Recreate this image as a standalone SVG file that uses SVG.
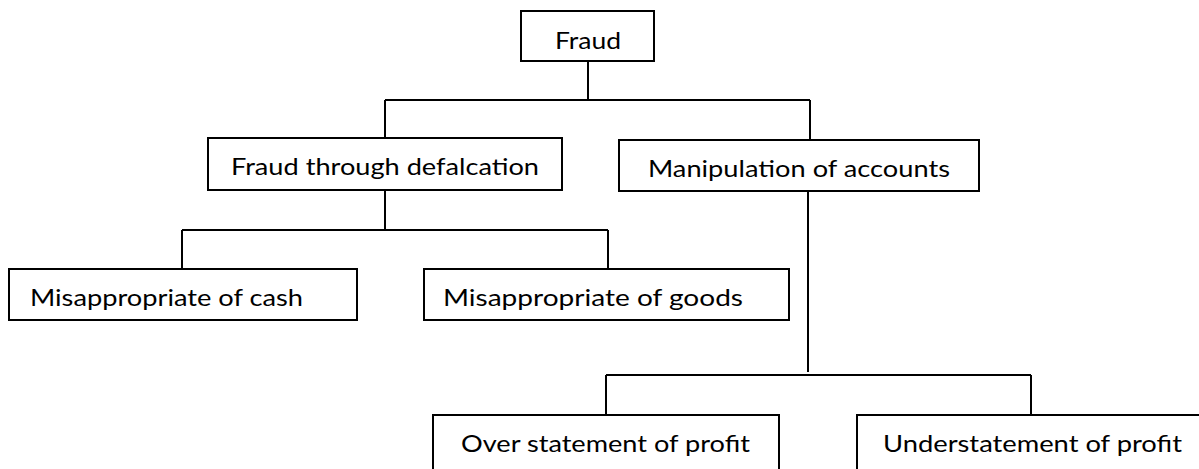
<svg xmlns="http://www.w3.org/2000/svg" width="1199" height="469" viewBox="0 0 1199 469">
<style>
.box{fill:#fff;stroke:#000;stroke-width:2}
.lbl{font-family:Lato,"Open Sans","Liberation Sans",sans-serif;font-size:24px;fill:#000}
.conn{fill:none;stroke:#000;stroke-width:2}
</style>
<rect width="1199" height="469" fill="#fff"/>
<g id="connectors">
<path class="conn" d="M588 62V100M385 100H810M385 100V138M810 100V140"/>
<path class="conn" d="M385 191V230M182 230H608M182 230V269M608 230V269"/>
<path class="conn" d="M808 192V372M606 375H1031M606 375V415M1031 375V415"/>
</g>
<g id="fraud"><rect class="box" x="521" y="11" width="133" height="50"/><text class="lbl" x="555" y="49" textLength="66" lengthAdjust="spacingAndGlyphs">Fraud</text></g>
<g id="defalcation"><rect class="box" x="208" y="138" width="354" height="52"/><text class="lbl" x="231" y="175" textLength="308" lengthAdjust="spacingAndGlyphs">Fraud through defalcation</text></g>
<g id="manipulation"><rect class="box" x="619" y="140" width="360" height="51"/><text class="lbl" x="648" y="177" textLength="302" lengthAdjust="spacingAndGlyphs">Manipulation of accounts</text></g>
<g id="cash"><rect class="box" x="9" y="269" width="348" height="51"/><text class="lbl" x="30" y="306" textLength="273" lengthAdjust="spacingAndGlyphs">Misappropriate of cash</text></g>
<g id="goods"><rect class="box" x="424" y="269" width="365" height="51"/><text class="lbl" x="443" y="306" textLength="300" lengthAdjust="spacingAndGlyphs">Misappropriate of goods</text></g>
<g id="over"><rect class="box" x="433" y="415" width="346" height="80"/><text class="lbl" x="461" y="452" textLength="289" lengthAdjust="spacingAndGlyphs">Over statement of profit</text></g>
<g id="under"><rect class="box" x="857" y="415" width="400" height="80"/><text class="lbl" x="883" y="452" textLength="299" lengthAdjust="spacingAndGlyphs">Understatement of profit</text></g>
</svg>
